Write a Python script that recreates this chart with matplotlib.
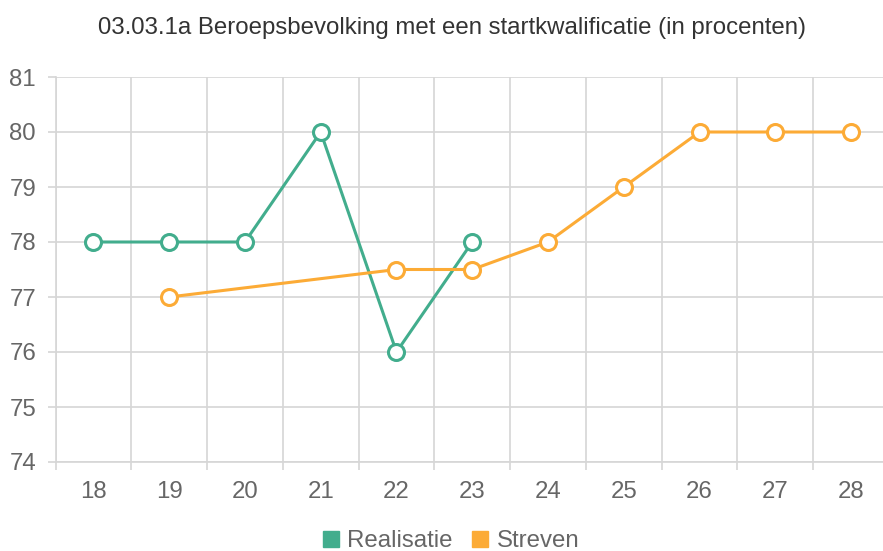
import numpy as np
import matplotlib
matplotlib.use("Agg")
import matplotlib.pyplot as plt
from matplotlib.lines import Line2D

# data
years = ["18", "19", "20", "21", "22", "23", "24", "25", "26", "27", "28"]
realisatie = [78, 78, 78, 80, 76, 78, None, None, None, None, None]
streven = [None, 77, None, None, 77.5, 77.5, 78, 79, 80, 80, 80]
y_ticks = [74, 75, 76, 77, 78, 79, 80, 81]

title = "03.03.1a Beroepsbevolking met een startkwalificatie (in procenten)"
green = "#42ad8d"
orange = "#fcab36"
grid_col = "#d6d6d6"
label_col = "#666666"
fs = 17.3

plt.rcParams["font.family"] = ["Liberation Sans", "DejaVu Sans"]

fig = plt.figure(figsize=(8.83, 5.51), dpi=100)
ax = fig.add_axes([55.5 / 883, 89 / 551, (889 - 55.5) / 883, (462 - 77) / 551])

x = np.arange(len(years))


def series(vals):
    # skip missing values so the line spans the gaps
    xs = [i for i, v in zip(x, vals) if v is not None]
    ys = [v for v in vals if v is not None]
    return xs, ys


for vals, col in [(realisatie, green), (streven, orange)]:
    xs, ys = series(vals)
    ax.plot(xs, ys, color=col, lw=2.2, marker="o", ms=11.5,
            mfc="white", mec=col, mew=2.2, zorder=3, clip_on=False)

ax.set_xlim(-0.5, len(years) - 0.5)
ax.set_ylim(74, 81)
ax.set_yticks(y_ticks)
ax.set_xticks(x)
ax.set_xticklabels(years)
ax.set_xticks(np.arange(len(years) + 1) - 0.5, minor=True)

ax.tick_params(axis="x", which="major", length=0, pad=14,
               labelsize=fs, labelcolor=label_col)
ax.tick_params(axis="x", which="minor", length=6, width=1.2, color=grid_col)
ax.tick_params(axis="y", length=6, width=1.2, color=grid_col, pad=8,
               labelsize=fs, labelcolor=label_col)

ax.grid(True, which="minor", axis="x", color=grid_col, lw=1.2)
ax.grid(True, which="major", axis="y", color=grid_col, lw=1.2)
ax.set_axisbelow(True)

for s in ["top", "right"]:
    ax.spines[s].set_visible(False)
for s in ["left", "bottom"]:
    ax.spines[s].set_color(grid_col)
    ax.spines[s].set_linewidth(1.2)

fig.text(452 / 883, 1 - 28 / 551, title, ha="center", va="center",
         fontsize=fs, color="#333333")

handles = [Line2D([], [], ls="none", marker="s", ms=11, color=green),
           Line2D([], [], ls="none", marker="s", ms=11, color=orange)]
fig.legend(handles, ["Realisatie", "Streven"], loc="center",
           bbox_to_anchor=(451 / 883, 1 - 541 / 551), ncol=2, frameon=False,
           fontsize=fs, labelcolor=label_col, handletextpad=0.35,
           columnspacing=0.8, handlelength=0.7)

fig.savefig("out.png", dpi=100)
